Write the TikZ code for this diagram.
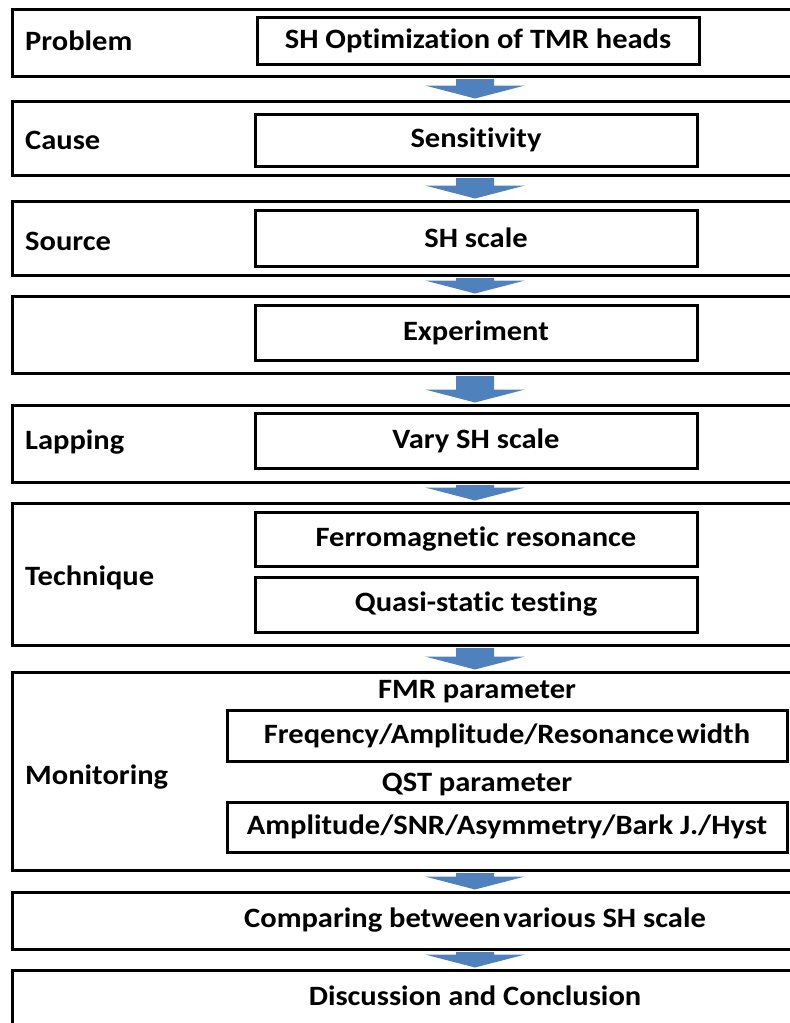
\documentclass[tikz,border=0pt]{standalone}
\usepackage{fontspec}
\usepackage{graphicx}
\setmainfont{Carlito}[Ligatures=NoCommon]
\usetikzlibrary{fit,calc}
\definecolor{arrowblue}{RGB}{79,129,189}
\newcommand\wtxt[1]{\scalebox{1.09}[1]{#1}}
\newcommand\flowarrow[2]{%
  \fill[bluearrow] let \p1=(#1.south -| ax), \p2=(#2.north -| ax) in
    (\x1-19pt,\y1-1.5pt) -- (\x1+19pt,\y1-1.5pt) -- (\x1+19pt,\y2+14pt)
    -- (\x1+50pt,\y2+14pt) -- (\x1,\y2+1pt) -- (\x1-50pt,\y2+14pt)
    -- (\x1-19pt,\y2+14pt) -- cycle;}
\begin{document}
\begin{tikzpicture}[x=1pt,y=-1pt,
  box/.style={draw=black, line width=3pt, inner sep=0pt, fill=white},
  lbl/.style={anchor=west, font=\fontsize{28}{31}\selectfont\bfseries, inner sep=0pt},
  txt/.style={font=\fontsize{28}{31}\selectfont\bfseries, inner sep=0pt},
  bluearrow/.style={fill=arrowblue}]
\useasboundingbox (0,0) rectangle (790,1023);
\clip (0,0) rectangle (790,1023);
\coordinate (ax) at (475,0);

% outer boxes
\node[box, fit={(12,9) (805,76)}] (b1) {};
\node[box, fit={(12,101) (805,175)}] (b2) {};
\node[box, fit={(12,201) (805,275)}] (b3) {};
\node[box, fit={(12,296) (805,373)}] (b4) {};
\node[box, fit={(12,405) (805,482)}] (b5) {};
\node[box, fit={(12,503) (805,645)}] (b6) {};
\node[box, fit={(12,672) (805,870)}] (b7) {};
\node[box, fit={(12,892) (805,949)}] (b8) {};
\node[box, fit={(12,970) (805,1040)}] (b9) {};

% inner boxes
\node[box, fit={(257,17) (699,64)}] (i1) {};
\node[box, fit={(255,114) (697,166)}] (i2) {};
\node[box, fit={(255,210) (697,266)}] (i3) {};
\node[box, fit={(255,305) (697,360)}] (i4) {};
\node[box, fit={(255,413) (697,468)}] (i5) {};
\node[box, fit={(255,512) (697,566)}] (i6a) {};
\node[box, fit={(255,577) (697,632)}] (i6b) {};
\node[box, fit={(227,710) (787,761)}] (i7a) {};
\node[box, fit={(227,802) (787,852)}] (i7b) {};

% labels
\node[lbl] (l1) at (25,41) {\wtxt{Problem}};
\node[lbl] (l2) at (25,140) {\wtxt{Cause}};
\node[lbl] (l3) at (25,241) {\wtxt{Source}};
\node[lbl] (l5) at (25,442) {\wtxt{Lapping}};
\node[lbl] (l6) at (25,578) {\wtxt{Technique}};
\node[lbl] (l7) at (25,777) {\wtxt{Monitoring}};

% texts
\node[txt] (t1) at (i1.center) {\wtxt{SH Optimization of TMR heads}};
\node[txt] (t2) at (i2.center) {\wtxt{Sensitivity}};
\node[txt] (t3) at (i3.center) {\wtxt{SH scale}};
\node[txt] (t4) at (i4.center) {\wtxt{Experiment}};
\node[txt] (t5) at (i5.center) {\wtxt{Vary SH scale}};
\node[txt] (t6a) at (i6a.center) {\wtxt{Ferromagnetic resonance}};
\node[txt] (t6b) at (i6b.center) {\wtxt{Quasi-static testing}};
\node[txt] (h7a) at (477,692) {\wtxt{FMR parameter}};
\node[txt] (t7a) at (i7a.center) {\wtxt{Freqency/Amplitude/Resonance\hspace{0.08em}width}};
\node[txt] (h7b) at (477,785) {\wtxt{QST parameter}};
\node[txt] (t7b) at (i7b.center) {\wtxt{Amplitude/SNR/Asymmetry/Bark J./Hyst}};
\node[txt] (t8) at (475,920) {\wtxt{Comparing between\hspace{0.08em}various SH scale}};
\node[txt] (t9) at (475,996) {\wtxt{Discussion and Conclusion}};

% arrows
\flowarrow{b1}{b2}
\flowarrow{b2}{b3}
\flowarrow{b3}{b4}
\flowarrow{b4}{b5}
\flowarrow{b5}{b6}
\flowarrow{b6}{b7}
\flowarrow{b7}{b8}
\flowarrow{b8}{b9}
\end{tikzpicture}
\end{document}
